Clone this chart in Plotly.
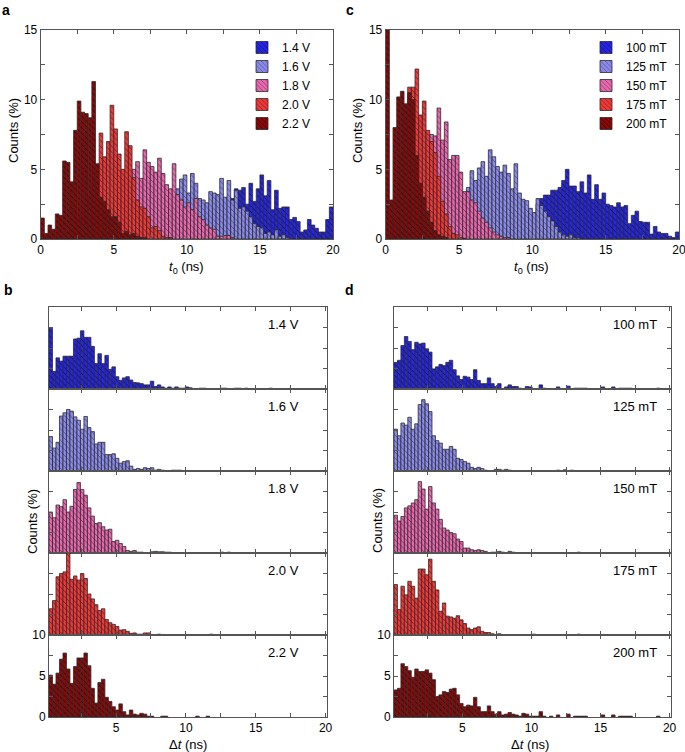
import plotly.graph_objects as go

W, H = 685, 752
FONT = "Liberation Sans, Arial, sans-serif"
BIN_W = 0.25
N_BINS = 80

# ---------------- categories (bin centres) ----------------
t0_bins = [BIN_W * (i + 0.5) for i in range(N_BINS)]            # 0..20 ns
dt_bins_b = [0.2 + BIN_W * (i + 0.5) for i in range(N_BINS)]     # panel b
dt_bins_d = [0.05 + BIN_W * (i + 0.5) for i in range(N_BINS)]    # panel d

volt_labels = ["1.4 V", "1.6 V", "1.8 V", "2.0 V", "2.2 V"]
field_labels = ["100 mT", "125 mT", "150 mT", "175 mT", "200 mT"]

# ---------------- panel a : t0 histograms (%), voltages ----------------
a_14 = [0, 0, 0, 0, 0, 0, 0, 0, 0, 0,
        0, 0, 0, 0, 0, 0, 0, 0, 0, 0,
        0, 0, 0, 0, 0, 0, 0, 0, 0, 0,
        0, 0, 0, 0, 0, 0, 0, 0, 0, 0,
        0.5, 0.8, 1.0, 1.2, 1.5, 1.8, 2.0, 2.2, 2.5, 2.5,
        2.8, 3.0, 2.9, 3.6, 3.5, 3.7, 2.5, 4.0, 2.7, 3.6,
        4.6, 3.1, 4.2, 2.1, 3.5, 2.2, 2.3, 2.3, 1.4, 1.55,
        1.25, 0.5, 0.65, 1.4, 1.0, 0.77, 0.5, 0.5, 1.4, 2.3]
a_16 = [0, 0, 0, 0, 0, 0, 0, 0, 0, 0,
        0, 0, 0, 0, 0, 0, 0, 0, 0, 0,
        0, 0, 0, 0, 0, 0, 0, 0, 0, 0,
        0.3, 0.5, 0.8, 1.0, 1.5, 2.0, 2.5, 3.6, 4.3, 4.6,
        3.3, 4.7, 4.0, 2.9, 2.8, 2.6, 3.4, 3.3, 3.2, 4.35,
        3.0, 4.2, 2.8, 3.5, 2.2, 2.3, 2.0, 1.6, 1.1, 0.9,
        0.8, 0.4, 0.5, 0.3, 0.65, 0.2, 0.3, 0.1, 0, 0,
        0, 0, 0, 0, 0, 0, 0, 0, 0, 0]
a_18 = [0, 0, 0, 0, 0, 0, 0, 0, 0, 0,
        0, 0, 0, 0.2, 0.4, 0.7, 1.0, 1.5, 2.0, 2.5,
        3.0, 3.5, 4.0, 4.5, 4.8, 5.0, 5.55, 4.35, 6.4, 5.5,
        5.2, 4.8, 5.8, 4.7, 3.9, 3.6, 5.4, 3.2, 2.8, 2.3,
        2.6, 2.1, 2.9, 1.6, 1.4, 1.0, 0.8, 0.7, 0.2, 0.2,
        0.25, 0.25, 0.1, 0, 0, 0, 0, 0, 0, 0,
        0, 0, 0, 0, 0, 0, 0, 0, 0, 0,
        0, 0, 0, 0, 0, 0, 0, 0, 0, 0]
a_20 = [0, 0, 0, 0, 0, 0, 0.3, 0.5, 0.8, 1.0,
        1.5, 2.0, 2.5, 3.0, 3.5, 4.2, 7.6, 5.9, 7.0, 9.6,
        7.9, 6.1, 5.0, 7.7, 6.7, 4.4, 2.8, 2.3, 2.2, 1.6,
        0.8, 0.9, 0.6, 0.2, 0.1, 0.1, 0, 0, 0, 0,
        0, 0, 0, 0, 0, 0, 0, 0, 0, 0,
        0, 0, 0, 0, 0, 0, 0, 0, 0, 0,
        0, 0, 0, 0, 0, 0, 0, 0, 0, 0,
        0, 0, 0, 0, 0, 0, 0, 0, 0, 0]
a_22 = [1.5, 0.4, 1.0, 0.7, 1.8, 1.7, 5.6, 5.5, 4.1, 7.8,
        9.9, 9.1, 9.0, 8.7, 11.3, 5.4, 3.0, 2.7, 2.1, 1.6,
        1.6, 1.2, 0.4, 0.55, 0.3, 0.4, 0.2, 0.1, 0.1, 0,
        0, 0, 0, 0, 0, 0, 0, 0, 0, 0,
        0, 0, 0, 0, 0, 0, 0, 0, 0, 0,
        0, 0, 0, 0, 0, 0, 0, 0, 0, 0,
        0, 0, 0, 0, 0, 0, 0, 0, 0, 0,
        0, 0, 0, 0, 0, 0, 0, 0, 0, 0]

# ---------------- panel c : t0 histograms (%), fields ----------------
c_100 = [0, 0, 0, 0, 0, 0, 0, 0, 0, 0,
         0, 0, 0, 0, 0, 0, 0, 0, 0, 0,
         0, 0, 0, 0, 0, 0.1, 0.1, 0.2, 0.2, 0.3,
         0.3, 0.4, 0.5, 0.6, 0.8, 1.0, 1.3, 1.6, 2.0, 1.8,
         1.7, 2.5, 2.9, 3.15, 3.15, 3.5, 3.5, 3.7, 4.2, 5.0,
         3.8, 3.8, 3.4, 4.1, 3.3, 4.6, 2.85, 3.9, 2.85, 3.3,
         2.5, 2.4, 2.3, 2.6, 2.3, 2.4, 1.1, 1.7, 2.0, 1.25,
         1.2, 1.2, 0.35, 0.9, 0.5, 0.4, 0.4, 0.2, 0.1, 0.5]
c_125 = [0, 0, 0, 0, 0, 0, 0, 0, 0, 0,
         0, 0, 0, 0, 0, 0.2, 0.4, 0.6, 0.8, 1.0,
         1.5, 2.5, 3.7, 4.9, 4.2, 5.1, 5.55, 4.5, 6.4, 5.9,
         5.2, 4.8, 5.3, 4.7, 3.6, 5.4, 3.3, 2.85, 2.75, 2.2,
         1.9, 2.9, 2.4, 2.0, 1.6, 1.3, 0.9, 0.5, 0.3, 0.2,
         0.3, 0.1, 0.1, 0, 0, 0, 0, 0, 0, 0,
         0, 0, 0, 0, 0, 0, 0, 0, 0, 0,
         0, 0, 0, 0, 0, 0, 0, 0, 0, 0]
c_150 = [0, 0, 0, 0, 0.5, 1.0, 1.5, 2.0, 3.0, 4.0,
         4.5, 5.5, 7.5, 7.4, 9.4, 7.1, 8.4, 5.7, 6.0, 6.0,
         4.8, 3.4, 3.4, 2.8, 2.6, 2.0, 1.5, 1.2, 0.8, 0.5,
         0.3, 0.2, 0.1, 0.1, 0, 0, 0, 0, 0, 0,
         0, 0, 0, 0, 0, 0, 0, 0, 0, 0,
         0, 0, 0, 0, 0, 0, 0, 0, 0, 0,
         0, 0, 0, 0, 0, 0, 0, 0, 0, 0,
         0, 0, 0, 0, 0, 0, 0, 0, 0, 0]
c_175 = [0, 0.3, 1.5, 3.0, 6.0, 8.0, 10.9, 10.9, 12.2, 8.9,
         9.9, 7.8, 7.0, 6.2, 4.5, 2.7, 1.8, 0.9, 0.4, 0.3,
         0.1, 0.05, 0, 0, 0, 0, 0, 0, 0, 0,
         0, 0, 0, 0, 0, 0, 0, 0, 0, 0,
         0, 0, 0, 0, 0, 0, 0, 0, 0, 0,
         0, 0, 0, 0, 0, 0, 0, 0, 0, 0,
         0, 0, 0, 0, 0, 0, 0, 0, 0, 0,
         0, 0, 0, 0, 0, 0, 0, 0, 0, 0]
c_200 = [15.0, 2.8, 8.0, 10.2, 10.6, 9.7, 10.5, 10.0, 6.0, 4.0,
         3.0, 2.0, 1.2, 0.6, 0.3, 0.2, 0.1, 0, 0, 0,
         0, 0, 0, 0, 0, 0, 0, 0, 0, 0,
         0, 0, 0, 0, 0, 0, 0, 0, 0, 0,
         0, 0, 0, 0, 0, 0, 0, 0, 0, 0,
         0, 0, 0, 0, 0, 0, 0, 0, 0, 0,
         0, 0, 0, 0, 0, 0, 0, 0, 0, 0,
         0, 0, 0, 0, 0, 0, 0, 0, 0, 0]

# ---------------- panel b : delta-t histograms (%), voltages ----------------
b_14 = [7.4, 2.15, 3.8, 3.4, 4.0, 4.0, 4.0, 6.1, 6.2, 7.1,
        6.3, 6.3, 5.2, 3.1, 4.3, 3.1, 4.1, 2.4, 2.7, 1.5,
        1.05, 1.35, 1.5, 1.1, 0.8, 0.75, 0.65, 0.5, 0.5, 0.95,
        0.3, 0.5, 0.25, 0.1, 0.25, 0.1, 0.25, 0.1, 0.1, 0.25,
        0.15, 0, 0, 0.1, 0.1, 0, 0, 0, 0, 0.1,
        0.1, 0, 0, 0.1, 0.1, 0, 0.1, 0, 0, 0,
        0, 0, 0, 0.1, 0, 0, 0, 0, 0, 0,
        0, 0, 0, 0, 0, 0, 0, 0, 0, 0]
b_16 = [4.2, 2.8, 3.5, 6.7, 7.1, 7.5, 7.3, 6.6, 6.2, 5.1,
        6.65, 5.3, 4.8, 3.3, 3.5, 3.5, 2.0, 2.0, 2.1, 1.55,
        0.95, 1.15, 1.25, 0.6, 0.2, 0.3, 0.2, 0.4, 0.3, 0.4,
        0.1, 0.2, 0.1, 0, 0, 0.1, 0.1, 0.1, 0, 0,
        0, 0, 0, 0.05, 0.05, 0.05, 0, 0, 0, 0,
        0, 0, 0, 0, 0, 0, 0, 0, 0, 0,
        0, 0.05, 0, 0, 0, 0, 0, 0, 0, 0,
        0, 0, 0, 0, 0, 0, 0, 0, 0, 0]
b_18 = [5.0, 4.3, 5.85, 5.65, 6.5, 5.0, 5.7, 7.75, 8.6, 7.75,
        7.05, 5.5, 4.5, 3.6, 3.7, 3.2, 2.8, 2.9, 1.4, 1.55,
        1.15, 0.8, 0.3, 0.2, 0.3, 0.1, 0.1, 0, 0, 0.15,
        0.2, 0.15, 0.15, 0.1, 0.1, 0, 0, 0, 0, 0,
        0, 0, 0, 0, 0, 0, 0, 0, 0, 0.1,
        0, 0.1, 0, 0, 0, 0, 0, 0, 0, 0,
        0, 0, 0, 0, 0, 0, 0, 0, 0, 0,
        0, 0, 0, 0, 0, 0, 0, 0, 0, 0]
b_20 = [3.2, 4.2, 7.1, 7.5, 7.7, 10.0, 6.8, 7.2, 6.7, 7.5,
        6.9, 5.0, 4.4, 3.7, 3.0, 3.2, 1.9, 1.5, 1.3, 1.05,
        0.6, 0.65, 0.45, 0.2, 0.25, 0.1, 0.1, 0.25, 0.25, 0,
        0, 0.1, 0, 0, 0, 0, 0, 0, 0, 0,
        0, 0, 0, 0, 0, 0, 0.1, 0, 0, 0,
        0, 0, 0, 0, 0, 0, 0, 0, 0, 0,
        0, 0, 0, 0, 0, 0, 0, 0, 0, 0,
        0, 0, 0, 0, 0, 0, 0, 0, 0, 0]
b_22 = [5.1, 4.0, 5.35, 7.05, 7.8, 5.85, 4.1, 6.15, 7.2, 7.2,
        7.8, 6.25, 3.5, 1.7, 4.2, 4.6, 2.4, 1.9, 1.25, 0.85,
        1.6, 0.65, 0.25, 0.85, 0.35, 0.25, 0.45, 0.35, 0.1, 0.1,
        0, 0, 0.1, 0.1, 0, 0, 0, 0, 0, 0,
        0, 0, 0.1, 0, 0, 0.1, 0, 0, 0, 0,
        0, 0, 0, 0, 0, 0, 0, 0, 0, 0,
        0, 0, 0, 0, 0, 0, 0, 0, 0, 0,
        0, 0, 0, 0, 0, 0, 0, 0, 0, 0]

# ---------------- panel d : delta-t histograms (%), fields ----------------
d_100 = [3.25, 3.5, 5.3, 6.4, 5.8, 4.8, 5.7, 5.5, 5.6, 4.9,
         4.5, 2.45, 2.7, 3.0, 2.85, 3.25, 3.5, 2.35, 1.6, 1.15,
         1.55, 1.45, 1.15, 2.35, 1.05, 0.65, 0.65, 1.35, 0.65, 0.3,
         0.65, 0, 0.25, 0.5, 0.3, 0.3, 0.1, 0, 0.3, 0.25,
         0, 0, 0.5, 0.1, 0, 0, 0, 0.25, 0, 0,
         0.35, 0, 0.1, 0.1, 0.1, 0.1, 0, 0, 0, 0,
         0.25, 0, 0, 0.25, 0, 0.1, 0.1, 0.1, 0.1, 0,
         0, 0, 0, 0, 0, 0, 0.1, 0, 0, 0]
d_125 = [5.1, 4.3, 5.85, 5.6, 6.55, 5.1, 5.75, 8.1, 8.7, 8.2,
         7.25, 4.3, 3.7, 3.4, 2.65, 2.65, 3.0, 2.65, 1.55, 1.4,
         1.15, 0.95, 0.45, 0.3, 0.45, 0.3, 0.1, 0, 0, 0.2,
         0.2, 0.1, 0.2, 0.1, 0, 0, 0, 0, 0, 0,
         0, 0, 0, 0, 0, 0, 0, 0.1, 0, 0.15,
         0, 0.1, 0, 0, 0, 0, 0, 0, 0, 0,
         0.05, 0, 0, 0, 0, 0, 0, 0, 0, 0,
         0, 0, 0, 0, 0, 0, 0, 0, 0, 0]
d_150 = [4.6, 3.9, 4.45, 5.5, 5.75, 6.1, 6.5, 8.7, 7.8, 5.35,
         8.1, 6.1, 5.35, 4.1, 3.05, 2.8, 2.5, 2.35, 1.7, 1.4,
         0.6, 0.6, 0.4, 0.3, 0.4, 0.3, 0.2, 0, 0.1, 0.1,
         0.2, 0.1, 0, 0.2, 0.1, 0, 0, 0, 0, 0,
         0, 0, 0, 0, 0, 0, 0, 0, 0, 0,
         0, 0, 0, 0.1, 0, 0, 0, 0, 0, 0,
         0, 0, 0, 0, 0, 0, 0, 0, 0, 0,
         0, 0, 0, 0, 0, 0, 0, 0, 0, 0]
d_175 = [6.15, 3.1, 5.95, 4.9, 6.55, 5.95, 4.5, 8.05, 8.05, 7.35,
         9.25, 6.55, 5.5, 2.9, 3.9, 2.3, 2.2, 2.05, 2.35, 1.85,
         1.4, 0.85, 0.65, 0.85, 1.0, 0.45, 0.3, 0.3, 0.15, 0.05,
         0.15, 0, 0, 0, 0, 0, 0, 0, 0, 0,
         0.1, 0, 0, 0, 0, 0, 0, 0, 0, 0,
         0, 0, 0, 0.1, 0, 0, 0, 0, 0, 0,
         0, 0, 0, 0, 0, 0, 0, 0, 0, 0,
         0, 0, 0, 0, 0, 0, 0, 0, 0, 0]
d_200 = [3.3, 3.5, 6.5, 6.15, 5.65, 4.85, 5.85, 5.55, 5.55, 5.75,
         5.35, 4.55, 2.5, 2.7, 3.1, 3.0, 3.4, 3.5, 2.7, 1.65,
         1.25, 1.45, 1.35, 2.4, 1.25, 0.65, 0.65, 1.35, 0.65, 0.35,
         0.65, 0.25, 0.35, 0.55, 0.35, 0.25, 0.1, 0.45, 0.35, 0.1,
         0.1, 0.1, 0.65, 0.1, 0, 0.1, 0, 0.25, 0, 0,
         0.35, 0, 0.1, 0.1, 0.1, 0.1, 0, 0, 0, 0,
         0.25, 0, 0, 0.25, 0, 0.1, 0.1, 0.1, 0.1, 0,
         0, 0, 0, 0, 0, 0, 0.1, 0, 0, 0]

a_series = [a_14, a_16, a_18, a_20, a_22]
c_series = [c_100, c_125, c_150, c_175, c_200]
b_series = [b_14, b_16, b_18, b_20, b_22]
d_series = [d_100, d_125, d_150, d_175, d_200]

# ---------------- styles ----------------
FILL = ["#2626e4", "#8c8ce8", "#e66aae", "#ee3a3a", "#8a0a0a"]
HATCH = ["#0c0c70", "#4a4a9a", "#8a2a62", "#8a1010", "#330000"]
EDGE = "#2b2b2b"
AXC = "#555555"


def px(x):
    return x / W


def py(y):
    return 1 - y / H


def nz(vals):
    return [v if v > 0 else None for v in vals]


def bar(xs, ys, i, name, xa, ya, legend=None, show=False):
    return go.Bar(
        x=xs, y=nz(ys), name=name, xaxis=xa, yaxis=ya, width=BIN_W,
        showlegend=show, legend=legend if legend else "legend",
        marker=dict(color=FILL[i], line=dict(color=EDGE, width=0.8),
                    pattern=dict(shape="\\", size=4, solidity=0.22,
                                 fgcolor=HATCH[i], bgcolor=FILL[i],
                                 fillmode="replace")),
        hoverinfo="skip")


fig = go.Figure()
for i in range(5):
    fig.add_trace(bar(t0_bins, a_series[i], i, volt_labels[i], "x", "y", "legend", True))
for i in range(5):
    fig.add_trace(bar(t0_bins, c_series[i], i, field_labels[i], "x2", "y2", "legend2", True))
for i in range(5):
    fig.add_trace(bar(dt_bins_b, b_series[i], i, volt_labels[i], f"x{3 + i}", f"y{3 + i}"))
for i in range(5):
    fig.add_trace(bar(dt_bins_d, d_series[i], i, field_labels[i], f"x{8 + i}", f"y{8 + i}"))


def axis(**kw):
    d = dict(showline=True, linecolor=AXC, linewidth=1, mirror="allticks",
             ticks="inside", ticklen=4, tickwidth=1, tickcolor=AXC, automargin=False,
             ticklabeloverflow="allow",
             showgrid=False, zeroline=False, tickfont=dict(size=12, color="black"),
             minor=dict(ticks="inside", ticklen=4, tickwidth=1, tickcolor=AXC,
                        dtick=2.5, tick0=0, showgrid=False))
    d.update(kw)
    return d


layout = dict(
    width=W, height=H, margin=dict(l=0, r=0, t=0, b=0, autoexpand=False),
    paper_bgcolor="white", plot_bgcolor="white",
    barmode="overlay", bargap=0,
    font=dict(family=FONT, size=12, color="black"),
    legend=dict(x=px(242), y=py(33), xanchor="left", yanchor="top",
                bgcolor="rgba(0,0,0,0)", font=dict(size=12), traceorder="normal",
                itemwidth=30),
    legend2=dict(x=px(586), y=py(33), xanchor="left", yanchor="top",
                 bgcolor="rgba(0,0,0,0)", font=dict(size=12), traceorder="normal",
                 itemwidth=30),
)

# top panels
layout["xaxis"] = axis(domain=[px(40.7), px(333)], range=[0, 20], dtick=5, tick0=0, anchor="y")
layout["yaxis"] = axis(domain=[py(239), py(30)], range=[0, 15], dtick=5, tick0=0, anchor="x")
layout["xaxis2"] = axis(domain=[px(385.7), px(679)], range=[0, 20], dtick=5, tick0=0, anchor="y2")
layout["yaxis2"] = axis(domain=[py(239), py(30)], range=[0, 15], dtick=5, tick0=0, anchor="x2")

# stacked panels
edges = [307, 389, 471, 553, 635, 717]
for col, (x0, x1, xr, base) in enumerate([(49, 327, [0.2, 20.1], 3), (394, 671, [0.05, 20.1], 8)]):
    for k in range(5):
        n = base + k
        last = k == 4
        layout[f"xaxis{n}"] = axis(domain=[px(x0), px(x1)], range=xr, dtick=5, tick0=0,
                                   anchor=f"y{n}", showticklabels=last)
        layout[f"yaxis{n}"] = axis(domain=[py(edges[k + 1]), py(edges[k])], range=[0, 10],
                                   tickvals=[0, 5, 10], anchor=f"x{n}", showticklabels=last)

ann = []


def text(x, y, s, size=13, angle=0, bold=False, xanchor="center", yanchor="middle"):
    ann.append(dict(xref="paper", yref="paper", x=px(x), y=py(y), text=f"<b>{s}</b>" if bold else s,
                    showarrow=False, xanchor=xanchor, yanchor=yanchor, textangle=angle,
                    font=dict(size=size, family=FONT, color="black")))


text(0, 0, "a", 14, bold=True, xanchor="left", yanchor="top")
text(344, 0, "c", 14, bold=True, xanchor="left", yanchor="top")
text(2, 290, "b", 14, bold=True, xanchor="left")
text(343, 290, "d", 14, bold=True, xanchor="left")

text(187, 267, "<i>t</i><sub>0</sub> (ns)", 13)
text(531, 267, "<i>t</i><sub>0</sub> (ns)", 13)
text(14, 131, "Counts (%)", 13, angle=-90)
text(358, 131, "Counts (%)", 13, angle=-90)
text(32, 521, "Counts (%)", 13, angle=-90)
text(377, 521, "Counts (%)", 13, angle=-90)
text(188, 744, "Δ<i>t</i> (ns)", 13)
text(530, 744, "Δ<i>t</i> (ns)", 13)

for k in range(5):
    yc = edges[k] + 17
    text(283, yc, volt_labels[k], 13)
    text(635, yc, field_labels[k], 13)

layout["annotations"] = ann
fig.update_layout(**layout)
fig.write_html("out.html", config={"displayModeBar": False, "staticPlot": True},
               post_script="document.body.style.margin='0px';document.body.style.overflow='hidden';")
